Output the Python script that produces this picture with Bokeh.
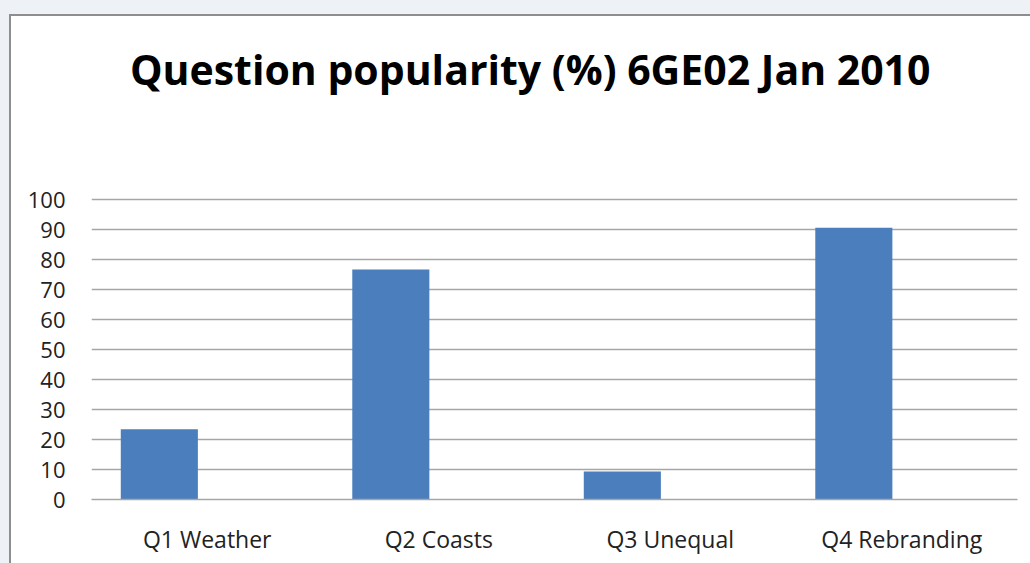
from bokeh.plotting import figure
from bokeh.models import ColumnDataSource, FixedTicker, Label
from bokeh.transform import dodge
from bokeh.embed import file_html
from bokeh.resources import INLINE

title_text = "Question popularity (%) 6GE02 Jan 2010"
categories = ["Q1 Weather", "Q2 Coasts", "Q3 Unequal", "Q4 Rebranding"]
popularity = [23.4, 76.7, 9.3, 90.6]
y_ticks = [0, 10, 20, 30, 40, 50, 60, 70, 80, 90, 100]

source = ColumnDataSource(data=dict(cat=categories, val=popularity))

# frame spans from the top of the white chart area; 0..100 occupies the lower 300 px
p = figure(x_range=categories, y_range=(0, 161), width=1030, height=563,
           output_backend="svg", toolbar_location=None)
p.x_range.range_padding = 0
p.min_border_left = 91
p.min_border_right = 13
p.min_border_top = 16
p.min_border_bottom = 64
p.background_fill_color = "white"
p.border_fill_color = None
p.outline_line_color = None

p.add_layout(Label(x=0.166, y=143.5, text=title_text,
                   text_font="Open Sans", text_font_style="bold", text_font_size="41px",
                   text_color="black", text_baseline="alphabetic", text_align="left"))

p.vbar(x=dodge("cat", -0.207, range=p.x_range), top="val", width=0.333,
       source=source, fill_color="#4A7EBD", line_color=None)

p.xgrid.grid_line_color = None
p.ygrid.grid_line_color = "#a6a6a6"
p.ygrid.grid_line_width = 1.3
p.yaxis.ticker = FixedTicker(ticks=y_ticks)

for ax in (p.xaxis[0], p.yaxis[0]):
    ax.major_tick_line_color = None
    ax.minor_tick_line_color = None
    ax.major_label_text_font = "Open Sans"
    ax.major_label_text_color = "#222222"

p.yaxis.major_label_text_font_size = "22px"
p.xaxis.major_label_text_font_size = "23px"
p.yaxis.axis_line_color = None
p.yaxis.major_label_standoff = 20
p.xaxis.axis_line_color = "#a6a6a6"
p.xaxis.axis_line_width = 1.3
p.xaxis.major_label_standoff = 17

p.styles = {"background": "linear-gradient(#ffffff,#ffffff) 11px 16px / 100% 100% no-repeat, "
                          "linear-gradient(#8e8e8e,#8e8e8e) 9px 14px / 100% 100% no-repeat, #eef1f6"}

open("out.html", "w").write(file_html(p, INLINE))
